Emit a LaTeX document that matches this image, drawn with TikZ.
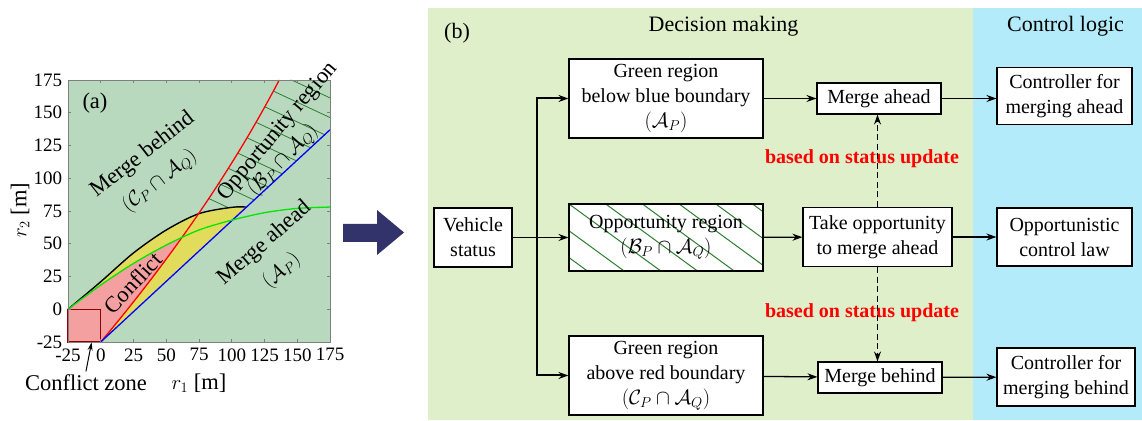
\documentclass[tikz,border=0pt]{standalone}
\usepackage{fontspec}
\setmainfont{Liberation Serif}
\usepackage{amsmath,amssymb}
\usepackage{xcolor}
\usetikzlibrary{positioning,arrows.meta,calc}
\definecolor{PlotBg}{HTML}{B9D9BF}
\definecolor{ConflictPink}{HTML}{F4A0A0}
\definecolor{ConflictYellow}{HTML}{E2DC5C}
\definecolor{HatchGreen}{HTML}{2E7D32}
\definecolor{CurveGreen}{HTML}{00E600}
\definecolor{ZoneRed}{HTML}{8B0000}
\definecolor{FrameGray}{HTML}{7F7F7F}
\definecolor{DecisionBg}{HTML}{DEEFCA}
\definecolor{ControlBg}{HTML}{B3EBFB}
\definecolor{ArrowNavy}{HTML}{33336B}

% boundaries in the (r1,r2) plane, data units
\newcommand{\blackcurve}{plot[smooth] coordinates {(-25,0) (0,21) (25,43) (50,60.5) (75,73) (100,77.8) (111.2,78)}}
\newcommand{\greencurve}{plot[smooth] coordinates {(-25,0) (0,18.5) (25,35) (50,49) (75,60.5) (100,68) (125,73.7) (150,77) (175,78)}}
\newcommand{\redcurve}[2]{plot[domain=#1:#2,samples=40] ({0.84*\x-0.0008*\x*\x},{\x-25})}

\begin{document}
\begin{tikzpicture}[x=1pt,y=1pt,
    every node/.style={font=\fontsize{20}{25}\selectfont},
    ar/.style={-{Stealth[length=10pt,width=7pt]},line width=1.3pt},
    blk/.style={draw,line width=1.1pt,fill=white,align=center,inner sep=2pt},
    redtxt/.style={text=red,font=\fontsize{20}{24}\selectfont\bfseries},
    plottxt/.style={font=\fontsize{22.5}{26}\selectfont},
    tick/.style={font=\fontsize{19}{21}\selectfont,inner sep=1pt}]
  \useasboundingbox (0,0) rectangle (1142,420);

  % (a) decision regions, 1 unit = 1.31pt
  \begin{scope}[shift={(100.75,110.75)},x=1.31pt,y=1.31pt]
    \fill[PlotBg] (-25,-25) rectangle (175,175);
    \fill[ConflictYellow] \blackcurve -- (0,-25) -- cycle;
    \begin{scope}
      \clip \greencurve -- (175,-25) -- (-25,-25) -- cycle;
      \fill[ConflictPink] \redcurve{0}{200} -- (-25,175) -- (-25,-25) -- cycle;
    \end{scope}
    \begin{scope}
      \clip \redcurve{99}{200} -- (175,175) -- (175,137) -- (111.2,78) -- (95,77.7) -- cycle;
      \foreach \c in {80,95,...,245}
        \draw[HatchGreen,line width=0.8pt] (60,\c) -- ++(150,-70);
    \end{scope}
    \draw[line width=1.4pt] \blackcurve;
    \draw[red,line width=1.3pt] \redcurve{0}{200};
    \draw[blue,line width=1.3pt] (0,-25) -- (175,137);
    \draw[CurveGreen,line width=1.3pt] \greencurve;
    \draw[ZoneRed,line width=1.3pt] (-25,-25) rectangle (0,0);

    \draw[FrameGray,line width=0.6pt] (-25,-25) rectangle (175,175);
    \foreach \v in {-25,0,...,175}{
      \draw[FrameGray,line width=0.6pt] (\v,-25) -- ++(0,2.5) (\v,175) -- ++(0,-2.5)
        (-25,\v) -- ++(2.5,0) (175,\v) -- ++(-2.5,0);
      \node[tick,anchor=east] at (-28.5,\v) {\v};
      \node[tick,anchor=north] at (\v,-29) {\v};
    }
    \node[plottxt] (alab) at (-4.4,157.4) {(a)};
    \node[plottxt] (r1lab) at (75,-56.3) {$r_1$~[m]};
    \node[plottxt,rotate=90] (r2lab) at (-61.6,75.8) {$r_2$~[m]};

    \node[plottxt,rotate=38] (mbtxt) at (31.9,117.7) {Merge behind};
    \node[plottxt,rotate=38] (mbset) at (45.2,97.7) {$(\mathcal{C}_P\cap\mathcal{A}_Q)$};
    \node[plottxt,rotate=47] (conftxt) at (24.6,20.2) {Conflict};
    \node[plottxt,rotate=50] (opptxt) at (135.3,135.7) {Opportunity region};
    \node[plottxt,rotate=46] (oppset) at (139.3,113.6) {$(\mathcal{B}_P\cap\mathcal{A}_Q)$};
    \node[plottxt,rotate=41] (matxt) at (125.4,50.1) {Merge ahead};
    \node[plottxt,rotate=41] (maset) at (138.1,29.2) {$(\mathcal{A}_P)$};

    \node[plottxt] (czone) at (-11.3,-56.3) {Conflict zone};
    \coordinate (zonetip) at (-7,-25.3);
    \draw[-{Stealth[length=8pt,width=5pt]},line width=1pt] (czone.north) -- (zonetip);
  \end{scope}

  % arrow between the panels
  \fill[ArrowNavy] (343,178) -- (377,178) -- (377,165) -- (404,187.5)
    -- (377,210) -- (377,196) -- (343,196) -- cycle;

  % (b) decision making and control logic
  \fill[DecisionBg] (428,0) rectangle (973,412);
  \fill[ControlBg] (973,0) rectangle (1142,412);
  \node[font=\fontsize{22}{26}\selectfont] (dmtitle) at (723.5,394) {Decision making};
  \node[font=\fontsize{22}{26}\selectfont] (cltitle) at (1065.5,394) {Control logic};
  \node[font=\fontsize{22}{26}\selectfont] (blab) at (457,387) {(b)};

  \node[blk,minimum width=78pt,minimum height=59pt] (vs) at (473,182.5) {Vehicle\\status};
  \node[blk,minimum width=194pt,minimum height=79pt] (ga) at (666,321.5)
    {Green region\\below blue boundary\\$(\mathcal{A}_P)$};
  \node[blk,minimum width=194pt,minimum height=67pt,
        path picture={\foreach \k in {-3,...,6}
          \draw[HatchGreen,line width=1pt] ([xshift=\k*36.7pt]path picture bounding box.north west) -- ++(100pt,-73pt);}]
    (opp) at (666,182.5) {Opportunity region\\$(\mathcal{B}_P\cap\mathcal{A}_Q)$};
  \node[blk,minimum width=194pt,minimum height=79pt] (gb) at (666,44.5)
    {Green region\\above red boundary\\$(\mathcal{C}_P\cap\mathcal{A}_Q)$};

  \node[blk,minimum width=124pt,minimum height=31pt] (mahead) at (879,321.5) {Merge ahead};
  \node[blk,minimum width=149pt,minimum height=59pt] (takeopp) at (877.5,183) {Take opportunity\\to merge ahead};
  \node[blk,minimum width=124pt,minimum height=31pt] (mbehind) at (880,42.5) {Merge behind};

  \node[blk,minimum width=135pt,minimum height=57pt] (ctrlahead) at (1064.5,324) {Controller for\\merging ahead};
  \node[blk,minimum width=135pt,minimum height=58pt] (ctrlopp) at (1064.5,183) {Opportunistic\\control law};
  \node[blk,minimum width=138pt,minimum height=58pt] (ctrlbehind) at (1066,43) {Controller for\\merging behind};

  \node[redtxt] (upd1) at (862,261.5) {based on status update};
  \node[redtxt] (upd2) at (862,107) {based on status update};

  \coordinate (split) at (537,182.5);
  \draw[ar] (vs) -- (opp);
  \draw[ar,line width=2pt] (split) |- (ga);
  \draw[ar,line width=2pt] (split) |- (gb);
  \draw[ar] (ga) -- (mahead);
  \draw[ar] (opp) -- (takeopp);
  \draw[ar] (gb) -- (mbehind);
  \draw[ar] (mahead.east) -- (mahead.east -| ctrlahead.west);
  \draw[ar] (takeopp) -- (ctrlopp);
  \draw[ar] (mbehind) -- (ctrlbehind);
  \draw[ar,dash pattern=on 6pt off 3.5pt] (takeopp.north) -- (takeopp.north |- mahead.south);
  \draw[ar,dash pattern=on 6pt off 3.5pt] (takeopp.south) -- (takeopp.south |- mbehind.north);
\end{tikzpicture}
\end{document}
